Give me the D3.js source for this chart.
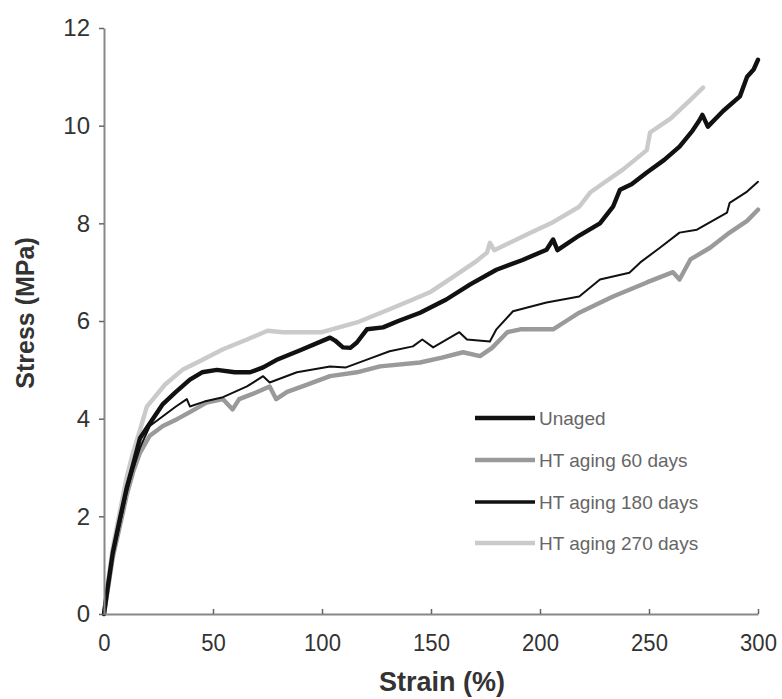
<!DOCTYPE html>
<html>
<head>
<meta charset="utf-8">
<script src="https://cdn.jsdelivr.net/npm/d3@7"></script>
<style>
  body { margin: 0; background: #fff; }
  text { font-family: "Liberation Sans", Arial, sans-serif; }
</style>
</head>
<body>
<div id="chart"></div>
<script>
// series: [strain %, stress MPa]
var unaged = [[0,0],[1.4,0.45],[4,1.25],[7.3,1.95],[10.5,2.6],[13.3,3.05],[16.5,3.6],[21,3.9],[27,4.3],[33,4.55],[39.4,4.8],[45,4.95],[51.8,5.0],[60,4.95],[67,4.95],[73,5.05],[79,5.2],[90,5.4],[103.7,5.66],[106,5.6],[109.6,5.46],[113,5.45],[116,5.56],[120.6,5.83],[128,5.87],[135,6.0],[145,6.17],[157,6.44],[168,6.75],[180,7.05],[192,7.25],[203,7.46],[206,7.67],[208,7.45],[218,7.75],[227.5,8.0],[233.5,8.34],[236.7,8.69],[242,8.8],[249,9.04],[257,9.3],[264,9.57],[270,9.9],[273,10.1],[274.5,10.22],[277,9.98],[284,10.3],[291.7,10.6],[295,11.0],[298,11.15],[300,11.35]];

var aged60 = [[0,0],[1.4,0.4],[4,1.15],[7.3,1.8],[10.5,2.45],[13.3,2.9],[16.5,3.3],[21,3.65],[27,3.85],[33.5,3.99],[40,4.15],[47,4.33],[54.6,4.4],[59,4.19],[62,4.4],[70,4.54],[76,4.66],[79,4.4],[84,4.55],[91,4.66],[103.7,4.87],[116,4.95],[126.6,5.07],[145,5.15],[155,5.25],[164.7,5.36],[172.5,5.28],[178,5.45],[185,5.77],[191,5.83],[206,5.83],[212,6.0],[218,6.17],[233.5,6.5],[249,6.79],[261,7.0],[264,6.85],[269,7.26],[278,7.5],[287,7.81],[295,8.05],[300,8.28]];

var aged180 = [[0,0],[1.4,0.42],[4,1.2],[7.3,1.85],[10.5,2.5],[13.3,2.95],[16.5,3.4],[21,3.85],[27,4.05],[33,4.25],[38,4.4],[39.4,4.25],[46,4.35],[54.6,4.44],[65.6,4.66],[73,4.87],[76,4.74],[88.5,4.95],[103.7,5.07],[111,5.05],[120,5.2],[131,5.38],[141.7,5.48],[146,5.62],[151,5.46],[163,5.77],[166.5,5.62],[177,5.58],[180,5.83],[187.6,6.2],[203,6.38],[218,6.5],[227.5,6.85],[241,6.99],[246,7.2],[255,7.5],[264,7.81],[272,7.87],[285.8,8.22],[287,8.42],[295,8.65],[300,8.85]];

var aged270 = [[0,0],[1.4,0.5],[4,1.35],[7.3,2.1],[10.5,2.82],[13.3,3.3],[16.5,3.77],[19.7,4.25],[22.5,4.4],[28,4.7],[36,5.0],[45,5.2],[54.6,5.42],[65.6,5.62],[75,5.8],[82,5.77],[100,5.77],[116,5.97],[131,6.24],[141.7,6.44],[150,6.6],[160,6.9],[170,7.2],[175.7,7.4],[177,7.6],[179,7.45],[195.4,7.8],[205,8.0],[218,8.34],[223,8.63],[230,8.85],[238,9.1],[249,9.5],[250.5,9.86],[260,10.15],[269,10.53],[274.8,10.78]];

var seriesNames = ["Unaged", "HT aging 60 days", "HT aging 180 days", "HT aging 270 days"];
var xTicks = [0, 50, 100, 150, 200, 250, 300];
var yTicks = [0, 2, 4, 6, 8, 10, 12];

var margin = { top: 28, right: 24, bottom: 85, left: 104 };
var width = 782 - margin.left - margin.right;
var height = 699 - margin.top - margin.bottom;

var svg = d3.select("#chart").append("svg")
    .attr("width", 782)
    .attr("height", 699);

var g = svg.append("g")
    .attr("transform", "translate(" + margin.left + "," + margin.top + ")");

var x = d3.scaleLinear().domain([0, 300]).range([0, width]);
var y = d3.scaleLinear().domain([0, 12]).range([height, 0]);

// styles per series, same order as seriesNames
var styles = [
    { data: unaged,  color: "#111", w: 4.4 },
    { data: aged60,  color: "#9a9a9a", w: 4.4 },
    { data: aged180, color: "#111", w: 2 },
    { data: aged270, color: "#cacaca", w: 4.4 }
];

var line = d3.line()
    .x(function(d) { return x(d[0]); })
    .y(function(d) { return y(d[1]); });

// draw light ones first so the dark ones sit on top
[3, 1, 2, 0].forEach(function(i) {
    g.append("path")
        .datum(styles[i].data)
        .attr("fill", "none")
        .attr("stroke", styles[i].color)
        .attr("stroke-width", styles[i].w)
        .attr("stroke-linejoin", "round")
        .attr("stroke-linecap", "round")
        .attr("d", line);
});

// axes
var xAxis = g.append("g")
    .attr("transform", "translate(0," + height + ")")
    .call(d3.axisBottom(x).tickValues(xTicks).tickSizeInner(-5).tickSizeOuter(0).tickPadding(20));

var yAxis = g.append("g")
    .call(d3.axisLeft(y).tickValues(yTicks).tickSizeInner(5).tickSizeOuter(0).tickPadding(9));

[xAxis, yAxis].forEach(function(a) {
    a.select(".domain").attr("stroke", "#888").attr("stroke-width", 2);
    a.selectAll(".tick line").attr("stroke", "#666").attr("stroke-width", 1.5);
    a.selectAll(".tick text")
        .attr("fill", "#333")
        .style("font-size", "24px");
});
// the reference digits are a bit narrow
xAxis.selectAll(".tick text").attr("transform", "scale(0.92,1)");

// axis titles
svg.append("text")
    .attr("x", 442)
    .attr("y", 691)
    .attr("text-anchor", "middle")
    .attr("fill", "#333")
    .style("font-size", "27px")
    .style("font-weight", "bold")
    .text("Strain (%)");

svg.append("text")
    .attr("transform", "translate(34,313) rotate(-90)")
    .attr("text-anchor", "middle")
    .attr("fill", "#333")
    .style("font-size", "25px")
    .style("font-weight", "bold")
    .text("Stress (MPa)");

// legend
var legendY = [418, 460, 502, 543];
var legend = svg.append("g");
seriesNames.forEach(function(name, i) {
    legend.append("line")
        .attr("x1", 475).attr("x2", 535)
        .attr("y1", legendY[i]).attr("y2", legendY[i])
        .attr("stroke", styles[i].color)
        .attr("stroke-width", i == 2 ? 3.4 : 4.4);
    legend.append("text")
        .attr("x", 539)
        .attr("y", legendY[i] + 6.5)
        .attr("fill", "#666")
        .style("font-size", "19px")
        .text(name);
});
</script>
</body>
</html>
